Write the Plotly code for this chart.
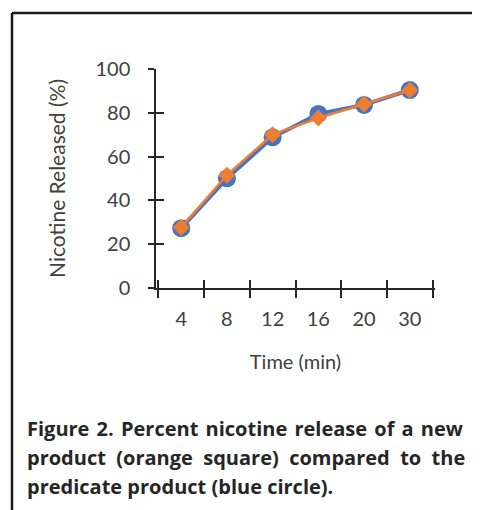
import plotly.graph_objects as go

categories = ["4", "8", "12", "16", "20", "30"]
predicate_release = [27.3, 50.1, 68.8, 79.5, 83.6, 90.4]
new_release = [27.6, 51.5, 70.0, 77.6, 84.0, 90.3]
y_ticks = [0, 20, 40, 60, 80, 100]

caption_lines = [
    "Figure 2. Percent nicotine release of a new",
    "product (orange square) compared to the",
    "predicate product (blue circle).",
]

W, H = 480, 510
OFF = 8  # browser body margin
ML, MR, MT, MB = 156 - OFF, 45 + OFF, 69 - OFF, 222 + OFF
FONT = "Lato"
CAP_FONT = "Open Sans"
AX = "#262626"
TXT = "#404040"

fig = go.Figure()
fig.add_trace(go.Scatter(
    x=categories, y=predicate_release, mode="lines+markers",
    line=dict(color="#4472C4", width=4),
    marker=dict(symbol="circle", size=18, color="#4472C4"),
    showlegend=False, cliponaxis=False))
fig.add_trace(go.Scatter(
    x=categories, y=new_release, mode="lines+markers",
    line=dict(color="#ED7D31", width=2.5),
    marker=dict(symbol="diamond", size=13, color="#ED7D31"),
    showlegend=False, cliponaxis=False))
# invisible trace for the inner-tick overlay axes
fig.add_trace(go.Scatter(x=categories, y=new_release, xaxis="x2", yaxis="y2",
                         mode="markers", marker=dict(opacity=0), showlegend=False,
                         hoverinfo="skip"))

common_axis = dict(showgrid=False, zeroline=False, showline=True,
                   linecolor=AX, linewidth=1.5, tickcolor=AX, tickwidth=1.5)

fig.update_layout(
    width=W, height=H,
    margin=dict(l=ML, r=MR, t=MT, b=MB, autoexpand=False),
    paper_bgcolor="white", plot_bgcolor="white",
    font=dict(family=FONT, size=20, color=TXT),
    xaxis=dict(type="category", categoryorder="array", categoryarray=categories,
               tickson="boundaries", ticks="outside", ticklen=8,
               ticklabelstandoff=12, tickfont=dict(size=20),
               title=dict(text="Time (min)", standoff=26, font=dict(size=20, color=TXT)),
               **common_axis),
    yaxis=dict(range=[0, 100], tickvals=y_ticks, ticks="outside", ticklen=6,
               ticklabelstandoff=14, tickfont=dict(size=20),
               title=dict(text="Nicotine Released (%)", standoff=24, font=dict(size=21, color=TXT)),
               **common_axis),
    xaxis2=dict(type="category", categoryorder="array", categoryarray=categories,
                overlaying="x", matches="x", tickson="boundaries", ticks="inside",
                ticklen=8, showticklabels=False, showgrid=False, zeroline=False,
                showline=False, tickcolor=AX, tickwidth=1.5),
    yaxis2=dict(range=[0, 100], tickvals=y_ticks, overlaying="y", ticks="inside",
                ticklen=8, showticklabels=False, showgrid=False, zeroline=False,
                showline=False, tickcolor=AX, tickwidth=1.5),
)

pw = W - ML - MR
ph = H - MT - MB
def px_x(p):
    return (p - OFF - ML) / pw
def px_y(p):
    return (H - MB - (p - OFF)) / ph

# figure frame (top and left edges visible)
fig.add_shape(type="line", xref="paper", yref="paper",
              x0=px_x(12), x1=px_x(500), y0=px_y(13), y1=px_y(13),
              line=dict(color="#1a1a1a", width=2.5))
fig.add_shape(type="line", xref="paper", yref="paper",
              x0=px_x(12), x1=px_x(12), y0=px_y(13), y1=px_y(530),
              line=dict(color="#1a1a1a", width=2.5))

# justified caption: widen word gaps on the first two lines
gap_fill = [" \u200a", " \u00a0", " "]
for i, line in enumerate(caption_lines):
    txt = gap_fill[i].join(line.split(" "))
    fig.add_annotation(text="<b>" + txt + "</b>", xref="paper", yref="paper",
                       x=px_x(25), y=px_y(428 + 29 * i), xanchor="left", yanchor="middle",
                       showarrow=False, font=dict(family=CAP_FONT, size=20, color="#262626"))

fig.write_html("out.html")
